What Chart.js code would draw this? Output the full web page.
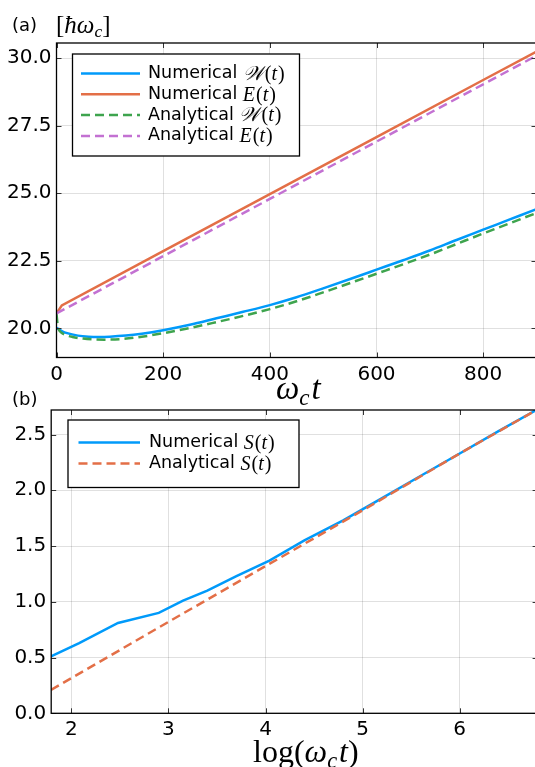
<!DOCTYPE html>
<html>
<head>
<meta charset="utf-8">
<script src="https://cdn.jsdelivr.net/npm/chart.js@4/dist/chart.umd.min.js"></script>
<style>
  html, body { margin: 0; padding: 0; background: #fff; }
  body { width: 535px; height: 767px; overflow: hidden; position: relative; }
  .wrap { position: absolute; left: 0; }
  .txt { position: absolute; white-space: nowrap; color: #000; line-height: 1; }
  .sans { font-family: "DejaVu Sans", sans-serif; }
  .math { font-family: "Liberation Serif", "DejaVu Serif", serif; }
  .math i { font-style: italic; }
  .math sub { font-size: 0.7em; vertical-align: -0.25em; line-height: 0; font-style: italic; }
</style>
</head>
<body>
<div class="wrap" style="top:0px;"><canvas id="chartA" width="540" height="400"></canvas></div>
<div class="wrap" style="top:380px;"><canvas id="chartB" width="541" height="387"></canvas></div>

<div class="txt sans" style="left:12px; top:16px; font-size:18px;">(a)</div>
<div class="txt math" style="left:56px; top:12px; font-size:25px;">[<i>ħω</i><sub>c</sub>]</div>
<div class="txt math" style="left:276px; top:372px; font-size:33px;"><i>ω</i><sub>c</sub><i style="margin-left:2px">t</i></div>
<div class="txt sans" style="left:12px; top:390px; font-size:18px;">(b)</div>
<div class="txt math" style="left:253px; top:735px; font-size:32px;">log(<i>ω</i><sub>c</sub><i style="margin-left:2px">t</i>)</div>

<script>
// ---------- panel (a): work and energy vs ω_c t ----------
const tWnum = [0, 10, 20, 40, 60, 80, 100, 130, 160, 200, 250, 300, 350, 400, 450, 500, 560, 600, 650, 700, 750, 800, 850, 900];
const Wnum  = [20.02, 19.90, 19.82, 19.73, 19.69, 19.68, 19.69, 19.73, 19.80, 19.93, 20.13, 20.37, 20.61, 20.86, 21.15, 21.48, 21.89, 22.17, 22.52, 22.88, 23.27, 23.65, 24.03, 24.41];

const tWana = [0, 2, 4, 8, 15, 30, 50, 70, 90, 120, 160, 200, 250, 300, 350, 400, 450, 500, 560, 600, 650, 700, 750, 800, 850, 900];
const Wana  = [20.53, 20.15, 19.97, 19.86, 19.77, 19.68, 19.62, 19.59, 19.58, 19.60, 19.69, 19.82, 20.01, 20.23, 20.46, 20.71, 21.00, 21.33, 21.74, 22.02, 22.37, 22.73, 23.12, 23.51, 23.89, 24.27];

const tEnum = [0, 10, 200, 400, 600, 800, 900];
const Enum  = [20.55, 20.85, 22.86, 24.97, 27.08, 29.19, 30.24];

const tEana = [0, 200, 400, 600, 800, 900];
const Eana  = [20.55, 22.67, 24.79, 26.91, 29.03, 30.09];

const xTicksA = [0, 200, 400, 600, 800];
const yTicksA = [20.0, 22.5, 25.0, 27.5, 30.0];

// ---------- panel (b): entropy vs log(ω_c t) ----------
const logTnum = [1.79, 2.08, 2.48, 2.90, 3.15, 3.40, 3.70, 4.04, 4.40, 4.80, 5.20, 5.60, 6.00, 6.40, 6.80];
const Snum    = [0.51, 0.63, 0.81, 0.90, 1.01, 1.10, 1.23, 1.37, 1.55, 1.73, 1.93, 2.13, 2.33, 2.53, 2.725];

const logTana = [1.79, 3.00, 4.00, 5.00, 6.00, 6.80];
const Sana    = [0.21, 0.82, 1.32, 1.82, 2.33, 2.725];

const xTicksB = [2, 3, 4, 5, 6];
const yTicksB = [0.0, 0.5, 1.0, 1.5, 2.0, 2.5];

const BLUE = '#009AFA', ORANGE = '#E36F47', GREEN = '#3EA44E', PURPLE = '#C371D2';
const DASH = [9, 5];

const pts = (xs, ys) => xs.map((x, i) => ({ x, y: ys[i] }));

// Box frame with inward tick marks on all four sides
const framePlugin = {
  id: 'frame',
  afterDatasetsDraw(chart) {
    const { ctx, chartArea: a, scales } = chart;
    ctx.save();
    ctx.strokeStyle = '#333';
    ctx.lineWidth = 1;
    ctx.beginPath();
    scales.x.ticks.forEach(t => {
      const px = Math.round(scales.x.getPixelForValue(t.value)) + 0.5;
      ctx.moveTo(px, a.bottom); ctx.lineTo(px, a.bottom - 5);
      ctx.moveTo(px, a.top); ctx.lineTo(px, a.top + 5);
    });
    scales.y.ticks.forEach(t => {
      const py = Math.round(scales.y.getPixelForValue(t.value)) + 0.5;
      ctx.moveTo(a.left, py); ctx.lineTo(a.left + 5, py);
      ctx.moveTo(a.right, py); ctx.lineTo(a.right - 5, py);
    });
    ctx.stroke();
    ctx.strokeStyle = '#000';
    ctx.lineWidth = 1.3;
    ctx.strokeRect(a.left, a.top, a.right - a.left, a.bottom - a.top);
    ctx.restore();
  }
};

// Legend box: sans label followed by an italic serif math part
const legendPlugin = {
  id: 'mathLegend',
  afterDraw(chart, args, opts) {
    const { ctx } = chart;
    const b = opts.box;
    ctx.save();
    ctx.fillStyle = '#fff';
    ctx.fillRect(b.x, b.y, b.w, b.h);
    ctx.strokeStyle = '#000';
    ctx.lineWidth = 1.3;
    ctx.strokeRect(b.x, b.y, b.w, b.h);
    opts.items.forEach((it, i) => {
      const y = opts.y0 + i * opts.dy;
      ctx.strokeStyle = it.color;
      ctx.lineWidth = 2.5;
      ctx.setLineDash(it.dash || []);
      ctx.beginPath();
      ctx.moveTo(opts.lineX0, y); ctx.lineTo(opts.lineX1, y);
      ctx.stroke();
      ctx.setLineDash([]);
      ctx.fillStyle = '#000';
      ctx.textBaseline = 'middle';
      ctx.font = '17.5px "DejaVu Sans"';
      ctx.fillText(it.label, opts.textX, y);
      const w = ctx.measureText(it.label + ' ').width;
      ctx.font = 'italic 20px "Liberation Serif"';
      ctx.fillText(it.sym, opts.textX + w, y + 1);
      const ws = ctx.measureText(it.sym).width;
      ctx.font = '20px "Liberation Serif"';
      ctx.fillText('(', opts.textX + w + ws + 1, y + 1);
      const wp = ctx.measureText('(').width;
      ctx.font = 'italic 20px "Liberation Serif"';
      ctx.fillText('t', opts.textX + w + ws + 1 + wp, y + 1);
      const wt = ctx.measureText('t').width;
      ctx.font = '20px "Liberation Serif"';
      ctx.fillText(')', opts.textX + w + ws + 1 + wp + wt + 1, y + 1);
    });
    ctx.restore();
  }
};

const gridCol = 'rgba(0,0,0,0.12)';
const tickFont = { family: 'DejaVu Sans', size: 20 };

function axes(xMin, xMax, xTicks, yMin, yMax, yTicks, yWidth, xHeight, xFmt, yFmt, xPad) {
  return {
    x: {
      type: 'linear', min: xMin, max: xMax,
      afterBuildTicks: s => { s.ticks = xTicks.map(v => ({ value: v })); },
      afterFit: s => { s.height = xHeight; },
      grid: { color: gridCol, lineWidth: 1, drawTicks: false },
      border: { display: false },
      ticks: { color: '#000', font: tickFont, padding: xPad, maxRotation: 0, autoSkip: false, callback: xFmt }
    },
    y: {
      type: 'linear', min: yMin, max: yMax,
      afterBuildTicks: s => { s.ticks = yTicks.map(v => ({ value: v })); },
      afterFit: s => { s.width = yWidth; },
      grid: { color: gridCol, lineWidth: 1, drawTicks: false },
      border: { display: false },
      ticks: { color: '#000', font: tickFont, padding: 5, autoSkip: false, callback: yFmt }
    }
  };
}

const line = (data, color, dash, order, mono) => ({
  data, borderColor: color, borderWidth: 2.5, borderDash: dash || [],
  pointRadius: 0, fill: false, tension: 0, order,
  cubicInterpolationMode: mono ? 'monotone' : 'default'
});

new Chart(document.getElementById('chartA'), {
  type: 'line',
  data: {
    datasets: [
      line(pts(tWnum, Wnum), BLUE, null, 4, true),
      line(pts(tEnum, Enum), ORANGE, null, 3, false),
      line(pts(tWana, Wana), GREEN, DASH, 2, true),
      line(pts(tEana, Eana), PURPLE, DASH, 1, false)
    ]
  },
  options: {
    responsive: false, animation: false, devicePixelRatio: 1,
    layout: { padding: { left: 0, top: 43, right: 3.5, bottom: 0 } },
    scales: axes(0, 900, xTicksA, 18.92, 30.56, yTicksA, 56.5, 42.5,
      v => String(v), v => v.toFixed(1), 5),
    plugins: {
      legend: { display: false }, tooltip: { enabled: false },
      mathLegend: {
        box: { x: 72.5, y: 54, w: 227, h: 102 },
        y0: 73.5, dy: 20.8, lineX0: 81, lineX1: 140, textX: 148,
        items: [
          { label: 'Numerical', sym: '𝒲', color: BLUE },
          { label: 'Numerical', sym: 'E', color: ORANGE },
          { label: 'Analytical', sym: '𝒲', color: GREEN, dash: DASH },
          { label: 'Analytical', sym: 'E', color: PURPLE, dash: DASH }
        ]
      }
    }
  },
  plugins: [framePlugin, legendPlugin]
});

new Chart(document.getElementById('chartB'), {
  type: 'line',
  data: {
    datasets: [
      line(pts(logTnum, Snum), BLUE, null, 2, false),
      line(pts(logTana, Sana), ORANGE, DASH, 1, false)
    ]
  },
  options: {
    responsive: false, animation: false, devicePixelRatio: 1,
    layout: { padding: { left: 0, top: 30, right: 3.4, bottom: 0 } },
    scales: axes(1.7918, 6.8024, xTicksB, 0, 2.72, yTicksB, 51.2, 53.7,
      v => String(v), v => v.toFixed(1), 4),
    plugins: {
      legend: { display: false }, tooltip: { enabled: false },
      mathLegend: {
        box: { x: 68, y: 40, w: 231, h: 67.5 },
        y0: 62.5, dy: 21.1, lineX0: 78.5, lineX1: 140, textX: 149,
        items: [
          { label: 'Numerical', sym: 'S', color: BLUE },
          { label: 'Analytical', sym: 'S', color: ORANGE, dash: DASH }
        ]
      }
    }
  },
  plugins: [framePlugin, legendPlugin]
});
</script>
</body>
</html>
